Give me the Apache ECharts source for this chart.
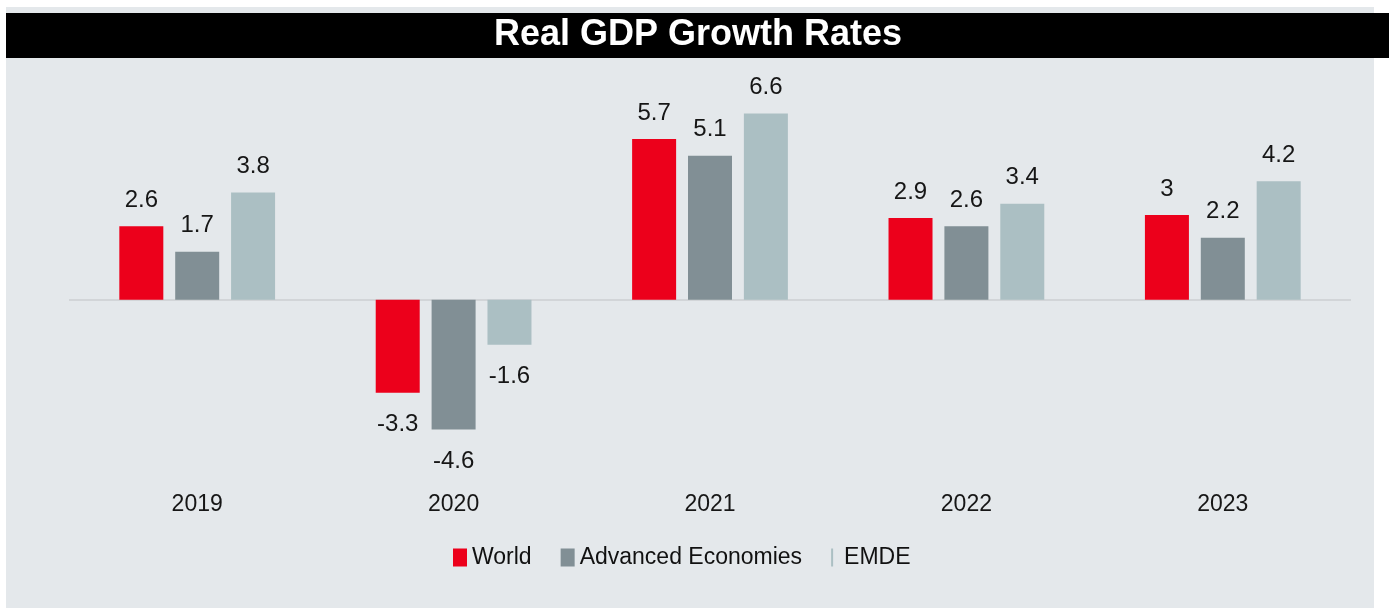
<!DOCTYPE html>
<html>
<head>
<meta charset="utf-8">
<script src="https://cdn.jsdelivr.net/npm/echarts@6/dist/echarts.min.js"></script>
<style>
html,body{margin:0;padding:0;background:#ffffff;}
#chart{width:1389px;height:608px;}
</style>
</head>
<body>
<div id="chart"></div>
<script>
const categories = ['2019', '2020', '2021', '2022', '2023'];
const seriesNames = ['World', 'Advanced Economies', 'EMDE'];
const worldValues = [2.6, -3.3, 5.7, 2.9, 3];
const advancedValues = [1.7, -4.6, 5.1, 2.6, 2.2];
const emdeValues = [3.8, -1.6, 6.6, 3.4, 4.2];
const titleText = 'Real GDP Growth Rates';

const colors = ['#ec001b', '#818f95', '#abbfc3'];
const FONT = '"Liberation Sans", Arial, Helvetica, sans-serif';

function toData(values) {
  return values.map(v => v < 0
    ? { value: v, label: { position: 'bottom', distance: 20 } }
    : { value: v });
}

const labelStyle = {
  show: true,
  position: 'top',
  distance: 14,
  fontFamily: FONT,
  fontSize: 24,
  color: '#161616'
};

const chart = echarts.init(document.getElementById('chart'), null, { renderer: 'canvas' });

const option = {
  animation: false,
  backgroundColor: 'transparent',
  graphic: [
    { type: 'rect', z: -10, shape: { x: 6, y: 7, width: 1368, height: 601 }, style: { fill: '#e4e8eb' } },
    { type: 'rect', z: -9, shape: { x: 6, y: 13, width: 1383, height: 45 }, style: { fill: '#000000' } },
    { type: 'text', z: 10, x: 698, y: 35,
      style: { text: titleText, fill: '#ffffff', fontFamily: FONT, fontWeight: 'bold', fontSize: 36,
               align: 'center', verticalAlign: 'middle' } }
  ],
  legend: {
    data: [
      { name: seriesNames[0], icon: 'rect' },
      { name: seriesNames[1], icon: 'rect' },
      { name: seriesNames[2], icon: 'path://M0,0L2,0L2,18L0,18Z' }
    ],
    left: 448,
    top: 541,
    itemWidth: 14,
    itemHeight: 18,
    itemGap: 29,
    textStyle: { fontFamily: FONT, fontSize: 23, color: '#111111' },
    selectedMode: false
  },
  grid: { left: 69, right: 38, top: 74, bottom: 139 },
  xAxis: {
    type: 'category',
    data: categories,
    position: 'bottom',
    axisLine: { show: false },
    axisTick: { show: false },
    axisLabel: { fontFamily: FONT, fontSize: 23, color: '#161616', margin: 24 }
  },
  yAxis: {
    type: 'value',
    min: -6,
    max: 8,
    interval: 2,
    show: false,
    splitLine: { show: false }
  },
  series: [
    {
      name: seriesNames[0], type: 'bar', data: toData(worldValues),
      barWidth: 44, barGap: '27%',
      itemStyle: { color: colors[0] }, label: labelStyle,
      markLine: {
        silent: true, symbol: 'none', label: { show: false },
        lineStyle: { color: '#d2d5d8', width: 2, type: 'solid' },
        data: [{ yAxis: 0 }],
        z: 1
      }
    },
    {
      name: seriesNames[1], type: 'bar', data: toData(advancedValues),
      barWidth: 44, barGap: '27%',
      itemStyle: { color: colors[1] }, label: labelStyle
    },
    {
      name: seriesNames[2], type: 'bar', data: toData(emdeValues),
      barWidth: 44, barGap: '27%',
      itemStyle: { color: colors[2] }, label: labelStyle
    }
  ]
};
chart.setOption(option);
</script>
</body>
</html>
